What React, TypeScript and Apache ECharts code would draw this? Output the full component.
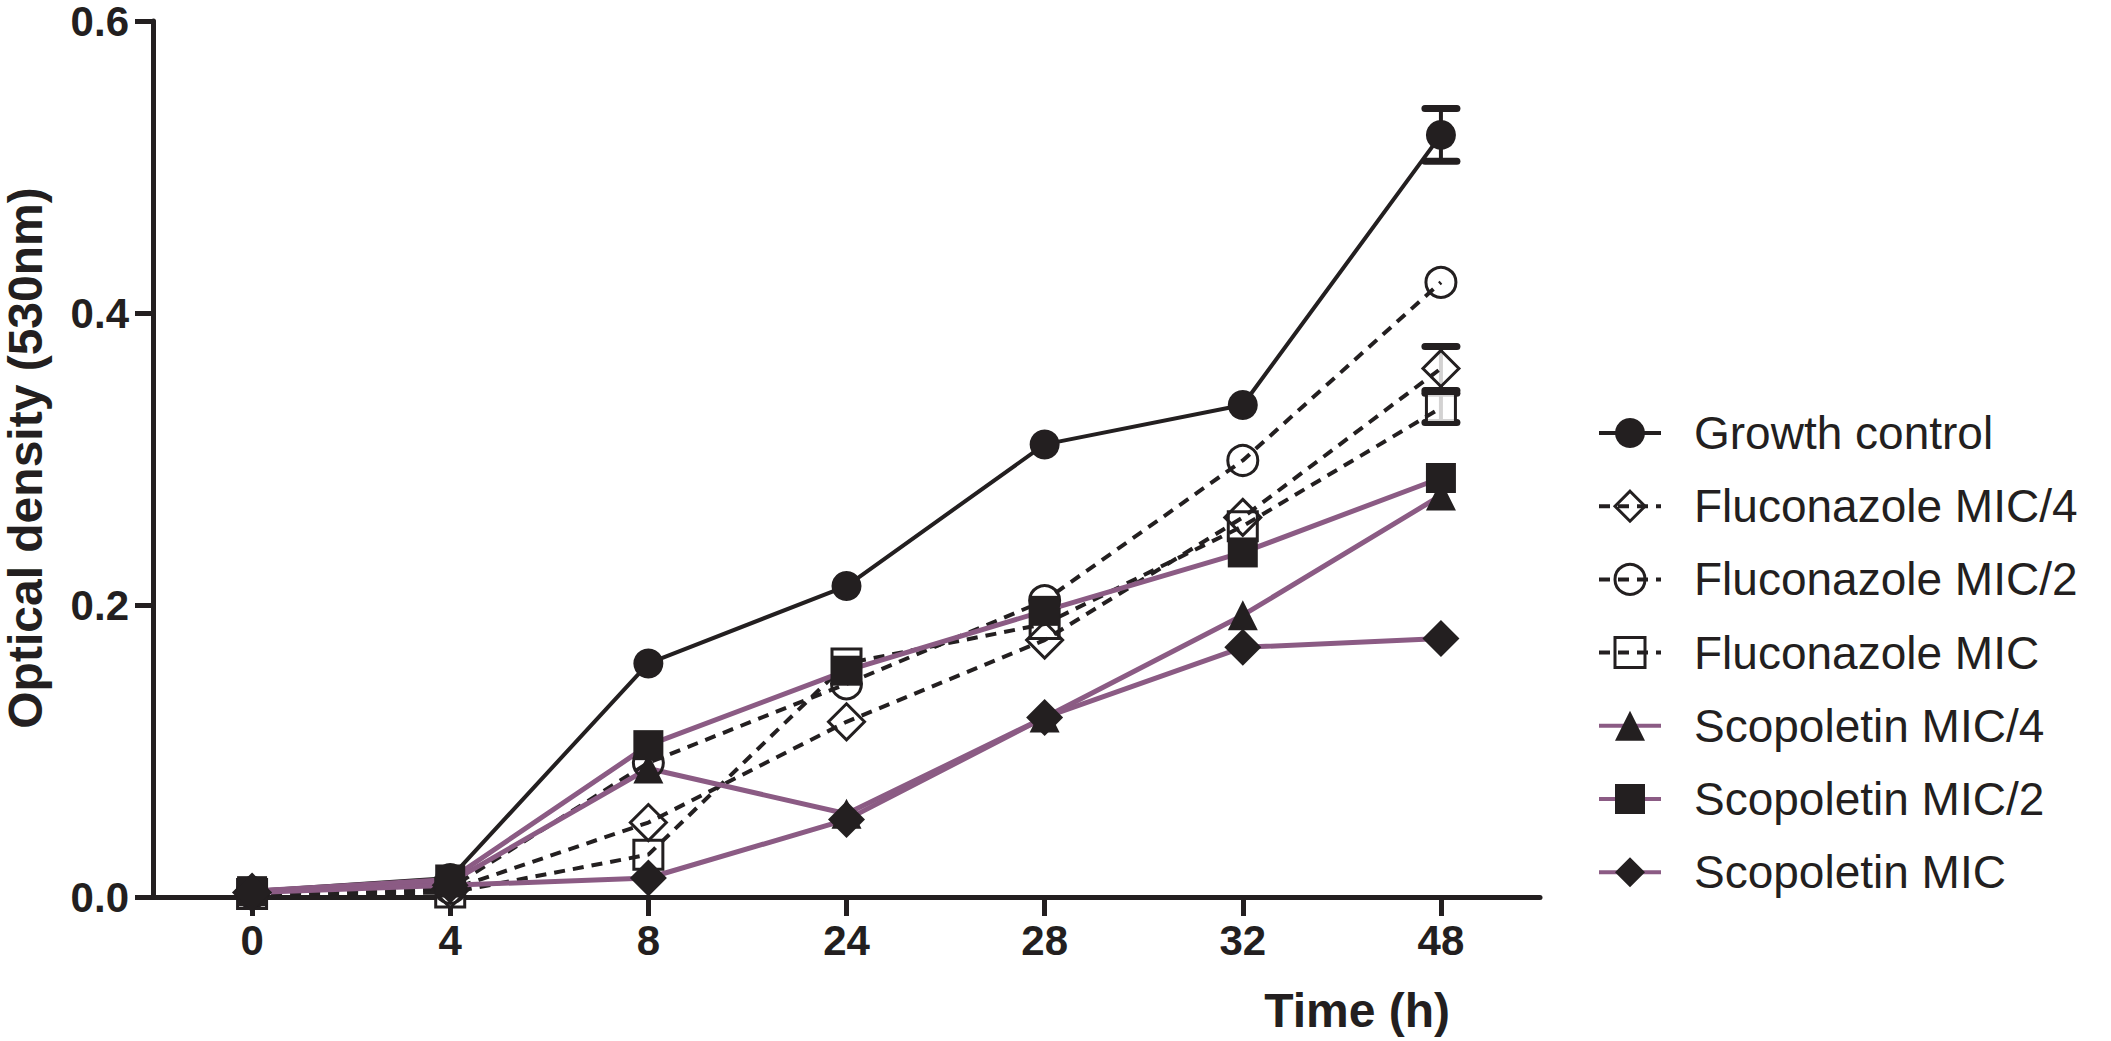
import React, { useEffect, useRef } from "react";
import * as echarts from "echarts";

// ---- data ----
const categories = ["0", "4", "8", "24", "28", "32", "48"];
const seriesNames = [
  "Growth control",
  "Fluconazole MIC/4",
  "Fluconazole MIC/2",
  "Fluconazole MIC",
  "Scopoletin MIC/4",
  "Scopoletin MIC/2",
  "Scopoletin MIC",
];
const growthControl = [0.004, 0.013, 0.16, 0.213, 0.31, 0.337, 0.522];
const growthControlErr = [0, 0, 0, 0, 0, 0, 0.018];
const flucMic4 = [0.003, 0.005, 0.051, 0.12, 0.176, 0.26, 0.362];
const flucMic4Err = [0, 0, 0, 0, 0, 0, 0.015];
const flucMic2 = [0.003, 0.006, 0.092, 0.146, 0.203, 0.299, 0.421];
const flucMic = [0.002, 0.003, 0.029, 0.16, 0.187, 0.254, 0.335];
const flucMicErr = [0, 0, 0, 0, 0, 0, 0.01];
const scopMic4 = [0.004, 0.01, 0.088, 0.057, 0.123, 0.193, 0.275];
const scopMic2 = [0.004, 0.012, 0.104, 0.155, 0.196, 0.236, 0.287];
const scopMic = [0.003, 0.008, 0.013, 0.053, 0.123, 0.171, 0.177];
const yMin = 0;
const yMax = 0.6;
const yStep = 0.2;
const xTitle = "Time (h)";
const yTitle = "Optical density (530nm)";

const BLACK = "#231f20";
const PURPLE = "#8b5b84";
const FONT = "'Liberation Sans', Arial, sans-serif";

export default function App() {
  const ref = useRef<HTMLDivElement>(null);

  useEffect(() => {
    document.body.style.margin = "0";
    if (!ref.current) return;
    const chart = echarts.init(ref.current, null, { renderer: "svg" });

    const errData: number[][] = [];
    const errSets: [number[], number[]][] = [
      [growthControl, growthControlErr],
      [flucMic4, flucMic4Err],
      [flucMic, flucMicErr],
    ];
    errSets.forEach(([vals, errs]) => {
      errs.forEach((e, i) => {
        if (e > 0) errData.push([i, vals[i] - e, vals[i] + e]);
      });
    });

    const dashed = [11, 8];
    const hollow = { color: "rgba(255,255,255,0)", borderColor: BLACK, borderWidth: 3 };
    const filled = { color: BLACK, borderWidth: 0 };

    const mk = (
      name: string,
      data: number[],
      symbol: string,
      size: number,
      itemStyle: any,
      lineColor: string,
      lineWidth: number,
      type: any
    ) => ({
      name,
      type: "line",
      data,
      symbol,
      symbolSize: size,
      itemStyle,
      lineStyle: { color: lineColor, width: lineWidth, type },
      emphasis: { disabled: true },
      z: 3,
    });

    // white fill under the open symbols (hides error-bar stems, lines stay on top)
    const mask = (name: string, data: number[], symbol: string, size: number) => ({
      name,
      type: "scatter",
      data,
      symbol,
      symbolSize: size,
      itemStyle: { color: "#ffffff", borderWidth: 0 },
      emphasis: { disabled: true },
      silent: true,
      z: 2,
    });

    const isHollow = (n: string) => n.indexOf("Fluconazole") === 0;

    const option: any = {
      animation: false,
      backgroundColor: "#ffffff",
      grid: {
        left: 153,
        right: 571,
        top: 21,
        bottom: 144,
        containLabel: false,
        outerBoundsMode: "none",
      },
      xAxis: {
        type: "category",
        data: categories,
        boundaryGap: true,
        axisLine: { show: true, lineStyle: { color: BLACK, width: 5 } },
        axisTick: {
          show: true,
          alignWithLabel: true,
          inside: false,
          length: 19,
          lineStyle: { color: BLACK, width: 5 },
        },
        axisLabel: {
          color: BLACK,
          fontFamily: FONT,
          fontWeight: "bold",
          fontSize: 42,
          lineHeight: 34,
          margin: 26,
        },
        splitLine: { show: false },
      },
      yAxis: {
        type: "value",
        min: yMin,
        max: yMax,
        interval: yStep,
        axisLine: { show: true, lineStyle: { color: BLACK, width: 5 } },
        axisTick: {
          show: true,
          inside: false,
          length: 18,
          lineStyle: { color: BLACK, width: 5 },
        },
        axisLabel: {
          color: BLACK,
          fontFamily: FONT,
          fontWeight: "bold",
          fontSize: 42,
          lineHeight: 32,
          margin: 24,
          formatter: (v: number) => v.toFixed(1),
        },
        splitLine: { show: false },
      },
      legend: {
        orient: "vertical",
        left: 1597,
        top: 410,
        padding: 0,
        itemWidth: 62,
        itemHeight: 37.5,
        itemGap: 27.2,
        selectedMode: false,
        lineStyle: { width: 4 },
        data: seriesNames.map((n) =>
          isHollow(n) ? { name: n, itemStyle: { borderWidth: 3 } } : { name: n }
        ),
        textStyle: {
          color: BLACK,
          fontFamily: FONT,
          fontSize: 46,
          lineHeight: 46,
          padding: [0, 0, 0, 28],
        },
      },
      graphic: [
        {
          type: "text",
          x: 25,
          y: 458,
          rotation: Math.PI / 2,
          style: {
            text: yTitle,
            fill: BLACK,
            font: `bold 48px ${FONT}`,
            lineHeight: 38,
            textAlign: "center",
            textVerticalAlign: "middle",
          },
        },
        {
          type: "text",
          x: 1450,
          y: 1010,
          style: {
            text: xTitle,
            fill: BLACK,
            font: `bold 48px ${FONT}`,
            textAlign: "right",
            textVerticalAlign: "middle",
          },
        },
      ],
      series: [
        {
          type: "custom",
          name: "errorbars",
          z: 1,
          data: errData,
          encode: { x: 0, y: [1, 2] },
          renderItem: (params: any, api: any) => {
            const x = api.value(0);
            const pLo = api.coord([x, api.value(1)]);
            const pHi = api.coord([x, api.value(2)]);
            const half = 16;
            return {
              type: "group",
              children: [
                {
                  type: "line",
                  shape: { x1: pLo[0], y1: pLo[1], x2: pHi[0], y2: pHi[1] },
                  style: { stroke: BLACK, lineWidth: 4 },
                },
                {
                  type: "line",
                  shape: { x1: pHi[0] - half, y1: pHi[1], x2: pHi[0] + half, y2: pHi[1] },
                  style: { stroke: BLACK, lineWidth: 7, lineCap: "round" },
                },
                {
                  type: "line",
                  shape: { x1: pLo[0] - half, y1: pLo[1], x2: pLo[0] + half, y2: pLo[1] },
                  style: { stroke: BLACK, lineWidth: 7, lineCap: "round" },
                },
              ],
            };
          },
        },
        mask("_m1", flucMic4, "diamond", 36),
        mask("_m2", flucMic2, "circle", 30),
        mask("_m3", flucMic, "rect", 29),
        mk(seriesNames[0], growthControl, "circle", 30, filled, BLACK, 4, "solid"),
        mk(seriesNames[1], flucMic4, "diamond", 36, hollow, BLACK, 4, dashed),
        mk(seriesNames[2], flucMic2, "circle", 30, hollow, BLACK, 4, dashed),
        mk(seriesNames[3], flucMic, "rect", 29, hollow, BLACK, 4, dashed),
        mk(seriesNames[4], scopMic4, "triangle", 30, filled, PURPLE, 5, "solid"),
        mk(seriesNames[5], scopMic2, "rect", 30, filled, PURPLE, 5, "solid"),
        mk(seriesNames[6], scopMic, "diamond", 37, filled, PURPLE, 5, "solid"),
      ],
    };

    chart.setOption(option);
    return () => chart.dispose();
  }, []);

  return <div ref={ref} style={{ width: 2111, height: 1041 }} />;
}
